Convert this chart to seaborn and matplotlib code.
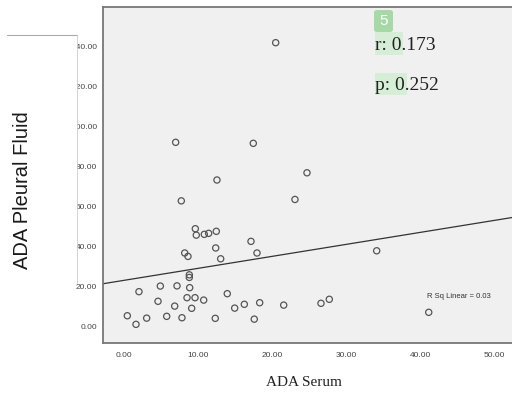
import numpy as np
import pandas as pd
import matplotlib
matplotlib.use("Agg")
import matplotlib.pyplot as plt
import seaborn as sns
from matplotlib.patches import Rectangle, FancyBboxPatch
from matplotlib.lines import Line2D

serum = [6.97, 17.44, 12.54, 7.73, 23.06, 9.62, 9.75, 10.83, 11.42, 12.45,
         17.13, 12.37, 8.19, 8.63, 17.94, 13.04, 8.81, 8.81, 2.02, 4.90,
         7.15, 8.86, 13.93, 4.59, 8.50, 9.58, 10.75, 6.84, 9.13, 14.93,
         16.23, 18.30, 21.54, 0.45, 1.62, 3.06, 5.76, 7.82, 12.31, 17.57,
         20.46, 24.68, 34.08, 26.57, 27.69, 41.10]
pleural = [92.0, 91.5, 73.2, 62.8, 63.5, 48.9, 45.7, 46.1, 46.6, 47.6,
           42.6, 39.3, 36.8, 35.1, 36.8, 33.9, 25.9, 24.6, 17.5, 20.3,
           20.4, 19.5, 16.5, 12.7, 14.5, 14.5, 13.3, 10.3, 9.2, 9.3,
           11.2, 12.0, 10.8, 5.5, 1.2, 4.3, 5.2, 4.5, 4.2, 3.8,
           141.7, 76.8, 37.9, 11.7, 13.7, 7.2]
x_ticks = [0, 10, 20, 30, 40, 50]
y_ticks = [0, 20, 40, 60, 80, 100, 120, 140]
r_text = "r: 0.173"
p_text = "p: 0.252"
rsq_text = "R Sq Linear = 0.03"
badge_text = "5"

df = pd.DataFrame({"ADA Serum": serum, "ADA Pleural Fluid": pleural})

sns.set_style("white")
plt.rcParams["font.family"] = ["Liberation Sans", "DejaVu Sans"]

W, H = 512, 395
fig = plt.figure(figsize=(W / 100, H / 100), dpi=100)
fig.patch.set_facecolor("white")
ax = fig.add_axes([103 / W, 1 - 343 / H, (512 - 103) / W, (343 - 7) / H])
ax.set_facecolor("#f0f0f0")
ax.set_xlim(-2.83, 52.33)
ax.set_ylim(-8.1, 159.5)

sns.scatterplot(data=df, x="ADA Serum", y="ADA Pleural Fluid", ax=ax,
                marker="o", s=20, facecolor="none", edgecolor="#555555",
                linewidth=0.9, zorder=3)
sns.regplot(data=df, x="ADA Serum", y="ADA Pleural Fluid", ax=ax,
            scatter=False, ci=None, truncate=False,
            line_kws=dict(color="#333333", linewidth=0.9))
ax.set_xlim(-2.83, 52.33)
ax.set_ylim(-8.1, 159.5)

ax.set_xticks(x_ticks)
ax.set_xticklabels([f"{v:.2f}" for v in x_ticks])
ax.set_yticks(y_ticks)
ax.set_yticklabels([f"{v:.2f}" for v in y_ticks])
ax.tick_params(axis="both", which="both", length=3.8, width=0.8, color="#444444",
               labelsize=6, labelcolor="#444444", direction="out", pad=0.4)
ax.tick_params(axis="x", pad=3)
for side in ["left", "bottom", "top"]:
    ax.spines[side].set_color("#777777")
    ax.spines[side].set_linewidth(1.3)
ax.spines["right"].set_visible(False)
ax.set_xlabel("")
ax.set_ylabel("")

# x label
fig.text(304 / W, 1 - 383 / H, "ADA Serum", ha="center", va="center",
         fontsize=11, family=["Liberation Serif", "DejaVu Serif"], color="#222222")

# white overlay covering part of the y tick labels
CX = 77
fig.patches.append(Rectangle((7 / W, 1 - 283 / H), (CX - 7) / W, (283 - 35) / H,
                             transform=fig.transFigure, facecolor="white",
                             edgecolor="none", zorder=5))
fig.lines.append(Line2D([7 / W, CX / W], [1 - 35 / H, 1 - 35 / H],
                        transform=fig.transFigure, color="#aaaaaa", lw=0.8, zorder=6))
fig.lines.append(Line2D([CX / W, CX / W], [1 - 35 / H, 1 - 283 / H],
                        transform=fig.transFigure, color="#cccccc", lw=0.6, zorder=6))

fig.text(23 / W, 1 - 190 / H, "ADA Pleural Fluid", rotation=90, ha="center",
         va="center", fontsize=14.5, color="#1a1a1a", zorder=7)

# annotations
fig.patches.append(Rectangle((375 / W, 1 - 55 / H), 28 / W, 23 / H,
                             transform=fig.transFigure, facecolor="#d6eed6",
                             edgecolor="none", zorder=5))
fig.patches.append(Rectangle((375 / W, 1 - 95 / H), 32 / W, 22 / H,
                             transform=fig.transFigure, facecolor="#d6eed6",
                             edgecolor="none", zorder=5))
fig.patches.append(FancyBboxPatch((374 / W, 1 - 32 / H), 19 / W, 22 / H,
                                  boxstyle="round,pad=0,rounding_size=0.006",
                                  transform=fig.transFigure, facecolor="#a6d9a6",
                                  edgecolor="none", zorder=5))
fig.text(383.5 / W, 1 - 21 / H, badge_text, ha="center", va="center",
         fontsize=11, color="white", zorder=7)
fig.text(375 / W, 1 - 45 / H, r_text, ha="left", va="center", fontsize=14,
         family=["Liberation Serif", "DejaVu Serif"], color="#222222", zorder=7)
fig.text(375 / W, 1 - 85 / H, p_text, ha="left", va="center", fontsize=14,
         family=["Liberation Serif", "DejaVu Serif"], color="#222222", zorder=7)
ax.text(427 / W, 1 - 297 / H, rsq_text, transform=fig.transFigure, ha="left",
        va="center", fontsize=5.5, color="#333333")

fig.savefig("out.png", dpi=100)
